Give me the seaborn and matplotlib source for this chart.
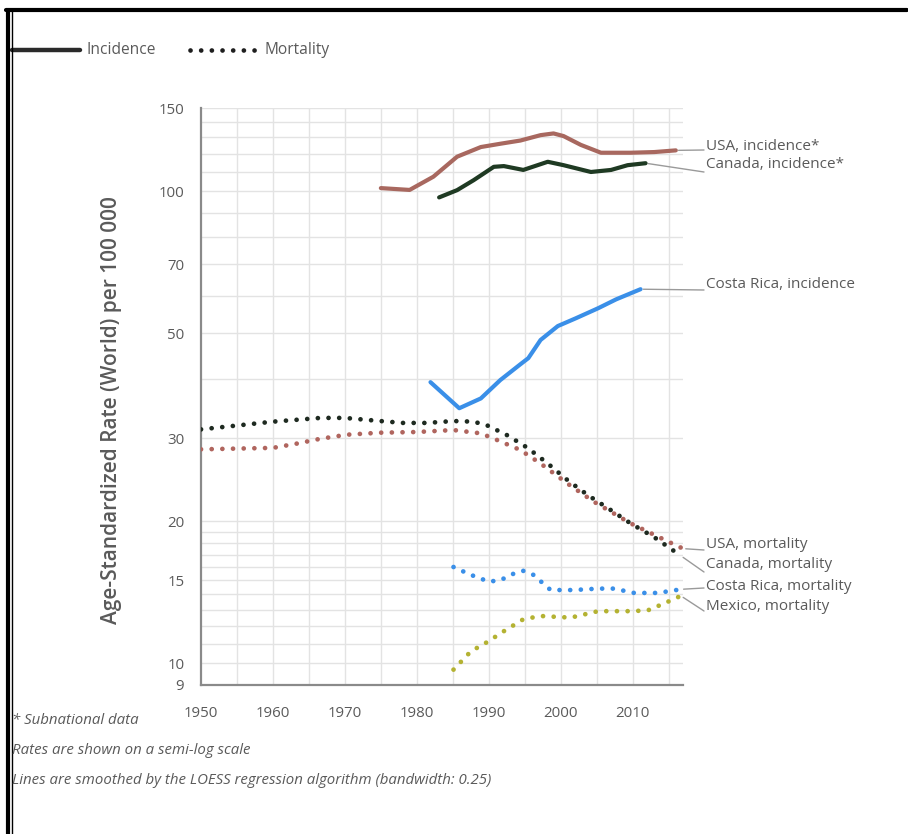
import matplotlib
matplotlib.use("Agg")
import matplotlib.pyplot as plt
from matplotlib.lines import Line2D
from matplotlib.ticker import FixedLocator, NullFormatter
import pandas as pd
import seaborn as sns

# ---- data (age-standardized rate per 100 000, LOESS-smoothed) ----
usa_inc_year = [1975, 1979, 1982.3, 1985.6, 1988.9, 1991.6, 1994.4, 1997.2, 1999, 2000.4, 2002.8, 2005.6, 2009.7, 2013, 2016]
usa_inc_rate = [101.5, 100.6, 107.3, 118.3, 124, 126, 128, 131.4, 132.5, 130.8, 125.3, 120.6, 120.6, 121, 122]

can_inc_year = [1983.1, 1985.6, 1987.9, 1990.7, 1992.1, 1994.8, 1998.2, 2000.4, 2004.2, 2007, 2009.3, 2011.8]
can_inc_rate = [97, 100.5, 105.5, 112.6, 113, 110.9, 115.4, 113.5, 109.8, 110.9, 113.5, 114.6]

cr_inc_year = [1981.9, 1985.9, 1988.9, 1991.6, 1994.4, 1995.5, 1997.2, 1999.6, 2002.1, 2005.2, 2007.7, 2011.1]
cr_inc_rate = [39.4, 34.7, 36.4, 39.8, 43, 44.3, 48.4, 51.8, 53.8, 56.5, 59.0, 62.0]

can_mor_year = [1950, 1960, 1966.6, 1970, 1974.9, 1978.1, 1981.4, 1985.1, 1987.9, 1989.8, 1992.6, 1995.4, 1998.2, 2001, 2003.8, 2007, 2009.7, 2013, 2016.7]
can_mor_rate = [31.3, 32.5, 33.1, 33.1, 32.6, 32.3, 32.3, 32.6, 32.5, 31.9, 30.4, 28.6, 26.5, 24.4, 22.7, 21.1, 19.8, 18.5, 16.9]

usa_mor_year = [1950, 1960, 1963.3, 1966.6, 1970.3, 1974.9, 1980, 1985.1, 1988.9, 1991.2, 1994.4, 1997.2, 2001, 2004.6, 2009.7, 2015.3, 2017]
usa_mor_rate = [28.4, 28.6, 29.2, 29.9, 30.5, 30.8, 30.9, 31.2, 30.7, 29.7, 28.3, 26.5, 24.0, 22.0, 19.8, 18.0, 17.5]

cr_mor_year = [1985.1, 1987.5, 1990, 1991.6, 1993.5, 1994.8, 1996.2, 1998.6, 2001.8, 2005.2, 2007.4, 2010.2, 2013.5, 2016.7]
cr_mor_rate = [16.0, 15.4, 14.9, 15.0, 15.5, 15.7, 15.4, 14.3, 14.3, 14.4, 14.4, 14.1, 14.1, 14.35]

mex_mor_year = [1985.1, 1987.5, 1989.8, 1992.1, 1994.8, 1997.2, 2001.4, 2005.2, 2009.7, 2012.1, 2014.4, 2016.7]
mex_mor_rate = [9.7, 10.6, 11.1, 11.7, 12.4, 12.6, 12.5, 12.9, 12.9, 12.95, 13.4, 13.9]

series_labels = ["USA, incidence*", "Canada, incidence*", "Costa Rica, incidence",
                 "USA, mortality", "Canada, mortality", "Costa Rica, mortality", "Mexico, mortality"]
y_ticks = [9, 10, 15, 20, 30, 50, 70, 100, 150]
y_minor = [11, 12, 13, 14, 16, 17, 18, 19, 40, 60, 80, 90, 110, 120, 130, 140]
x_ticks = [1950, 1960, 1970, 1980, 1990, 2000, 2010]

W, H = 908, 834
TXT = "#5a5a5a"
sns.set_theme(style="white")
plt.rcParams["font.family"] = ["Open Sans", "DejaVu Sans"]

fig = plt.figure(figsize=(W / 100, H / 100), dpi=100)


def fx(x):
    return x / W


def fy(y):
    return 1 - y / H


ax = fig.add_axes([fx(201), fy(685), fx(683) - fx(201), fy(108) - fy(685)])

dot = (0, (0.01, 2.25))
series = [
    (usa_inc_year, usa_inc_rate, "#a8685f", "-", 3.0),
    (can_inc_year, can_inc_rate, "#1f3a23", "-", 3.0),
    (cr_inc_year, cr_inc_rate, "#3a8fe8", "-", 3.0),
    (usa_mor_year, usa_mor_rate, "#b0655e", dot, 3.4),
    (can_mor_year, can_mor_rate, "#1e2a20", dot, 3.4),
    (cr_mor_year, cr_mor_rate, "#3a8fe8", dot, 3.4),
    (mex_mor_year, mex_mor_rate, "#b4b232", dot, 3.4),
]
for (xs, ys, col, ls, lw), name in zip(series, series_labels):
    df = pd.DataFrame({"year": xs, "rate": ys})
    sns.lineplot(data=df, x="year", y="rate", ax=ax, color=col, linestyle=ls,
                 linewidth=lw, estimator=None, sort=False, legend=False,
                 solid_capstyle="round", dash_capstyle="round", zorder=3)

ax.set_yscale("log")
ax.set_xlim(1950, 2017)
ax.set_ylim(9, 150)

# grid
for v in y_ticks + y_minor:
    ax.axhline(v, color="#e3e3e3", lw=1.0, zorder=0)
for yr in range(1955, 2020, 5):
    ax.axvline(yr, color="#e3e3e3", lw=1.0, zorder=0)

ax.yaxis.set_major_locator(FixedLocator(y_ticks))
ax.yaxis.set_minor_locator(FixedLocator(y_minor))
ax.yaxis.set_minor_formatter(NullFormatter())
ax.set_yticklabels([str(v) for v in y_ticks])
ax.xaxis.set_major_locator(FixedLocator(x_ticks))
ax.xaxis.set_minor_locator(FixedLocator(list(range(1955, 2020, 10))))
ax.set_xticklabels([str(v) for v in x_ticks])

for s in ["top", "right"]:
    ax.spines[s].set_visible(False)
for s in ["left", "bottom"]:
    ax.spines[s].set_color("#8a8a8a")
    ax.spines[s].set_linewidth(1.6)
ax.tick_params(axis="both", which="both", colors="#8a8a8a", labelcolor=TXT, labelsize=10.8)
ax.tick_params(axis="y", which="major", length=7, width=1.2, direction="out", pad=5)
ax.tick_params(axis="y", which="minor", length=4, width=1.2, direction="in")
ax.tick_params(axis="x", which="major", length=5, width=1.2, direction="out", pad=10)
ax.tick_params(axis="x", which="minor", length=4, width=1.2, direction="in")

ax.set_xlabel("")
ax.set_ylabel("Age-Standardized Rate (World) per 100 000", color=TXT,
              fontsize=15, fontweight="semibold")
ax.yaxis.set_label_coords(-0.163, 0.477)

# end labels with leader lines
label_pos = [(146, 150), (165, 172), (284, 290), (545, 550), (565, 572), (587, 588), (607, 611)]
for (xs, ys, col, ls, lw), name, (ty, ly) in zip(series, series_labels, label_pos):
    ax.annotate("", xy=(xs[-1], ys[-1]), xycoords="data",
                xytext=(fx(704), fy(ly)), textcoords="figure fraction",
                arrowprops=dict(arrowstyle="-", color="#9a9a9a", lw=1.0,
                                shrinkA=0, shrinkB=2),
                annotation_clip=False, zorder=2)
    fig.text(fx(706), fy(ty), name, ha="left", va="center", color=TXT, fontsize=11)

# legend for line styles
fig.add_artist(Line2D([fx(12), fx(80)], [fy(50), fy(50)], color="#2a2a2a", lw=3.2))
fig.text(fx(86), fy(50), "Incidence", ha="left", va="center", color=TXT, fontsize=11.2)
fig.add_artist(Line2D([fx(190), fx(256)], [fy(50), fy(50)], color="#1e1e1e", lw=3.4,
                      linestyle=dot, dash_capstyle="round"))
fig.text(fx(265), fy(50), "Mortality", ha="left", va="center", color=TXT, fontsize=11.2)

# footnotes
notes = ["* Subnational data", "Rates are shown on a semi-log scale",
         "Lines are smoothed by the LOESS regression algorithm (bandwidth: 0.25)"]
for note, y in zip(notes, [721, 751, 781]):
    fig.text(fx(12), fy(y), note, ha="left", va="center", color=TXT,
             fontsize=10.8, style="italic")

# frame
fig.add_artist(Line2D([fx(6), fx(907)], [fy(10), fy(10)], color="black", lw=3))
fig.add_artist(Line2D([fx(7.5), fx(7.5)], [fy(10), fy(834)], color="black", lw=3))
fig.add_artist(Line2D([fx(11.5), fx(11.5)], [fy(10), fy(834)], color="black", lw=1))

fig.savefig("out.png", dpi=100, facecolor="white")
